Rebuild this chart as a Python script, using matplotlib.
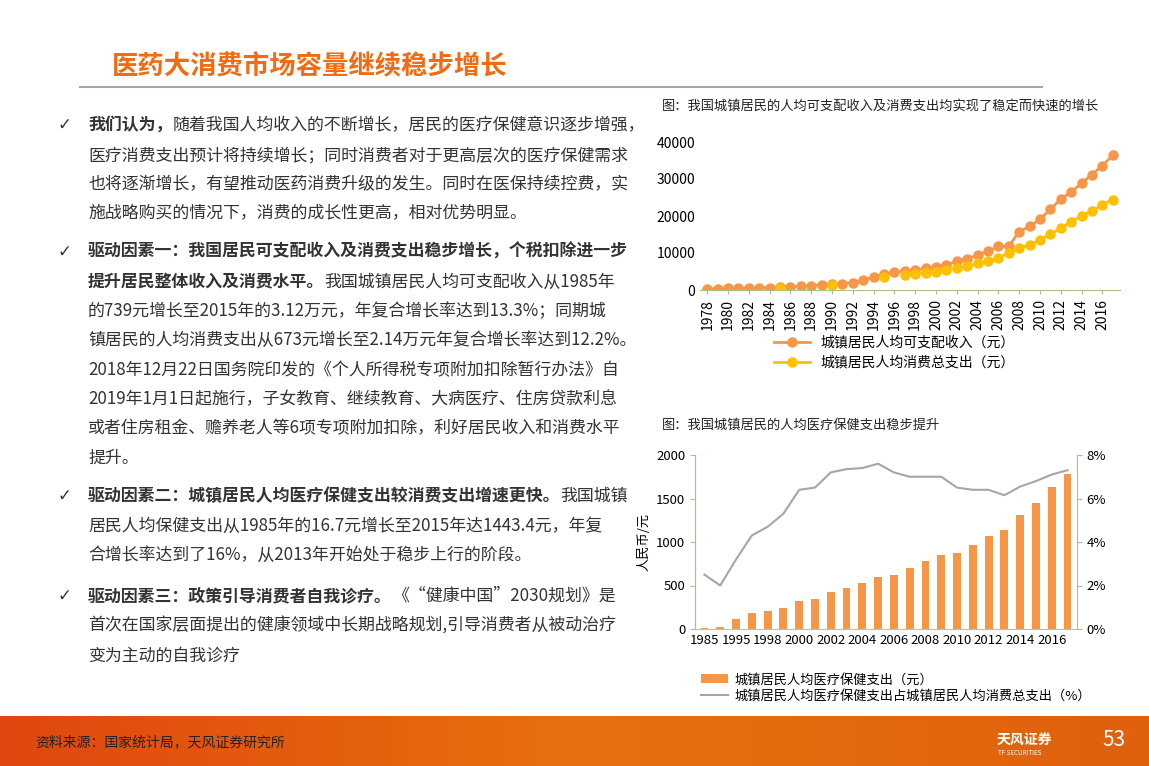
import numpy as np
import matplotlib.pyplot as plt
from matplotlib.colors import LinearSegmentedColormap

plt.rcParams['font.family'] = ['Noto Sans CJK SC', 'DejaVu Sans']

# ---------------- data ----------------
years = list(range(1978, 2018))
income = [343, 405, 478, 500, 535, 565, 652, 739, 900, 1002, 1180, 1374, 1510, 1701,
          2027, 2577, 3496, 4283, 4839, 5160, 5425, 5854, 6280, 6860, 7703, 8472,
          9422, 10493, 11759, 11800, 15781, 17175, 19109, 21810, 24565, 26467,
          28844, 31195, 33616, 36396]
expend_years = [1985, 1990, 1995] + list(range(1997, 2018))
expend_vals = [673, 1279, 3538, 4186, 4332, 4616, 4998, 5309, 6030, 6511, 7182, 7943,
               8697, 9997, 11243, 12265, 13471, 15161, 16674, 18488, 19968, 21392,
               23079, 24445]

med_years = ['1985', '1990', '1995', '1997', '1998', '1999', '2000', '2001', '2002',
             '2003', '2004', '2005', '2006', '2007', '2008', '2009', '2010', '2011',
             '2012', '2013', '2014', '2015', '2016', '2017']
med_spend = [16.7, 25, 110, 180, 205, 245, 318, 343, 430, 476, 528, 600, 620, 700,
             786, 856, 871, 969, 1064, 1136, 1306, 1443, 1631, 1777]
med_share = [2.5, 2.0, 3.2, 4.3, 4.7, 5.3, 6.4, 6.5, 7.2, 7.35, 7.4, 7.6, 7.2, 7.0,
             7.0, 7.0, 6.5, 6.4, 6.4, 6.15, 6.55, 6.8, 7.1, 7.3]

ORANGE = '#F79646'
YELLOW = '#FFC000'
GREEN = '#A9C47F'

W, H = 1149, 766
fig = plt.figure(figsize=(W / 100, H / 100), dpi=100)


def px(x, y):
    return x / W, 1 - y / H


# ---------------- header ----------------
fig.text(*px(112, 66), '医药大消费市场容量继续稳步增长', color='#F26B12', fontsize=19,
         fontweight='bold', va='center')
fig.add_artist(plt.Line2D([80 / W, 1042 / W], [1 - 87 / H] * 2, color='#A6A6A6', lw=1.5))

# ---------------- left text ----------------
lines = [
    (125, True, [('我们认为，', 1), ('随着我国人均收入的不断增长，居民的医疗保健意识逐步增强，', 0)]),
    (155, False, [('医疗消费支出预计将持续增长；同时消费者对于更高层次的医疗保健需求', 0)]),
    (184, False, [('也将逐渐增长，有望推动医药消费升级的发生。同时在医保持续控费，实', 0)]),
    (213, False, [('施战略购买的情况下，消费的成长性更高，相对优势明显。', 0)]),
    (252, True, [('驱动因素一：我国居民可支配收入及消费支出稳步增长，个税扣除进一步', 1)]),
    (282, False, [('提升居民整体收入及消费水平。', 1), ('我国城镇居民人均可支配收入从1985年', 0)]),
    (311, False, [('的739元增长至2015年的3.12万元，年复合增长率达到13.3%；同期城', 0)]),
    (340, False, [('镇居民的人均消费支出从673元增长至2.14万元年复合增长率达到12.2%。', 0)]),
    (370, False, [('2018年12月22日国务院印发的《个人所得税专项附加扣除暂行办法》自', 0)]),
    (399, False, [('2019年1月1日起施行，子女教育、继续教育、大病医疗、住房贷款利息', 0)]),
    (428, False, [('或者住房租金、赡养老人等6项专项附加扣除，利好居民收入和消费水平', 0)]),
    (458, False, [('提升。', 0)]),
    (496, True, [('驱动因素二：城镇居民人均医疗保健支出较消费支出增速更快。', 1), ('我国城镇', 0)]),
    (526, False, [('居民人均保健支出从1985年的16.7元增长至2015年达1443.4元，年复', 0)]),
    (555, False, [('合增长率达到了16%，从2013年开始处于稳步上行的阶段。', 0)]),
    (596, True, [('驱动因素三：政策引导消费者自我诊疗。', 1), ('《“健康中国”2030规划》是', 0)]),
    (626, False, [('首次在国家层面提出的健康领域中长期战略规划,引导消费者从被动治疗', 0)]),
    (656, False, [('变为主动的自我诊疗', 0)]),
]
fig.canvas.draw()
renderer = fig.canvas.get_renderer()
for y, check, segs in lines:
    if check:
        fig.text(*px(58, y), '✓', fontsize=12, color='#333333', va='center',
                 family='DejaVu Sans')
    x = 88
    for s, bold in segs:
        t = fig.text(*px(x, y), s, fontsize=12.2, color='#333333', va='center',
                     fontweight='bold' if bold else 'normal')
        x += t.get_window_extent(renderer).width

# ---------------- top chart ----------------
fig.text(*px(662, 106), '图：我国城镇居民的人均可支配收入及消费支出均实现了稳定而快速的增长',
         fontsize=9.5, color='#222222', va='center')
ax1 = fig.add_axes([700 / W, 1 - 290 / H, 420 / W, 148 / H])
exp_full = [expend_vals[expend_years.index(y)] if y in expend_years else np.nan for y in years]
ax1.plot(years, income, '-o', color=ORANGE, ms=6.5, lw=2, label='城镇居民人均可支配收入（元）')
ax1.plot(years, exp_full, '-o', color=YELLOW, ms=6.5, lw=2, label='城镇居民人均消费总支出（元）')
ax1.set_ylim(0, 40000)
ax1.set_xlim(1977.3, 2017.7)
ax1.set_yticks(range(0, 40001, 10000))
ax1.set_xticks(range(1978, 2017, 2))
ax1.tick_params(axis='x', rotation=90, labelsize=10, length=3, color=GREEN)
ax1.tick_params(axis='y', labelsize=10, length=0)
for s in ['top', 'right', 'left']:
    ax1.spines[s].set_visible(False)
ax1.spines['bottom'].set_color(GREEN)
fig.legend(*ax1.get_legend_handles_labels(), loc='upper left',
           bbox_to_anchor=(768 / W, 1 - 330 / H), frameon=False, fontsize=10,
           handlelength=2.6, labelspacing=0.45, borderaxespad=0)

# ---------------- bottom chart ----------------
fig.text(*px(662, 425), '图：我国城镇居民的人均医疗保健支出稳步提升', fontsize=9.5,
         color='#222222', va='center')
ax2 = fig.add_axes([695 / W, 1 - 629 / H, 382 / W, 174 / H])
xs = np.arange(len(med_years))
ax2.bar(xs, med_spend, width=0.5, color=ORANGE, label='城镇居民人均医疗保健支出（元）')
ax2.set_ylim(0, 2000)
ax2.set_xlim(-0.6, len(xs) - 0.4)
ax2.set_yticks(range(0, 2001, 500))
ax2.set_xticks(xs[::2])
ax2.set_xticklabels(med_years[::2])
ax2.tick_params(axis='x', length=0, labelsize=9.5)
ax2.tick_params(axis='y', labelsize=9.5, color=GREEN)
ax2.set_ylabel('人民币/元', fontsize=9.5)
ax3 = ax2.twinx()
ax3.plot(xs, med_share, color='#A6A6A6', lw=1.5,
         label='城镇居民人均医疗保健支出占城镇居民人均消费总支出（%）')
ax3.set_ylim(0, 8)
ax3.set_yticks(range(0, 9, 2))
ax3.set_yticklabels([f'{v}%' for v in range(0, 9, 2)])
ax3.tick_params(axis='y', labelsize=9.5, color=GREEN)
for a in (ax2, ax3):
    a.spines['top'].set_visible(False)
    a.spines['left'].set_color(GREEN)
    a.spines['right'].set_color(GREEN)
    a.spines['bottom'].set_color('#BFBFBF')
ax2.spines['right'].set_visible(False)
h1, l1 = ax2.get_legend_handles_labels()
h2, l2 = ax3.get_legend_handles_labels()
fig.legend(h1 + h2, l1 + l2, loc='upper left', bbox_to_anchor=(696 / W, 1 - 668 / H),
           frameon=False, fontsize=9.5, handlelength=2.0, handletextpad=0.5,
           labelspacing=0.25, borderaxespad=0)

# ---------------- footer band ----------------
axb = fig.add_axes([0, 0, 1, 50 / H])
cmap = LinearSegmentedColormap.from_list('band', ['#E0470F', '#E8700D', '#E0600E'])
axb.imshow(np.linspace(0, 1, 256)[None, :], aspect='auto', cmap=cmap, extent=[0, 1, 0, 1])
axb.axis('off')
fig.text(*px(35, 742), '资料来源：国家统计局，天风证券研究所', fontsize=10, color='#222222',
         va='center')
fig.text(*px(997, 741), '天风证券', fontsize=10, color='white', fontweight='bold',
         va='center')
fig.text(*px(998, 753), 'TF SECURITIES', fontsize=4.5, color='white', va='center')
fig.text(*px(1102, 740), '53', fontsize=15, color='white', va='center')

fig.savefig('out.png', dpi=100)
